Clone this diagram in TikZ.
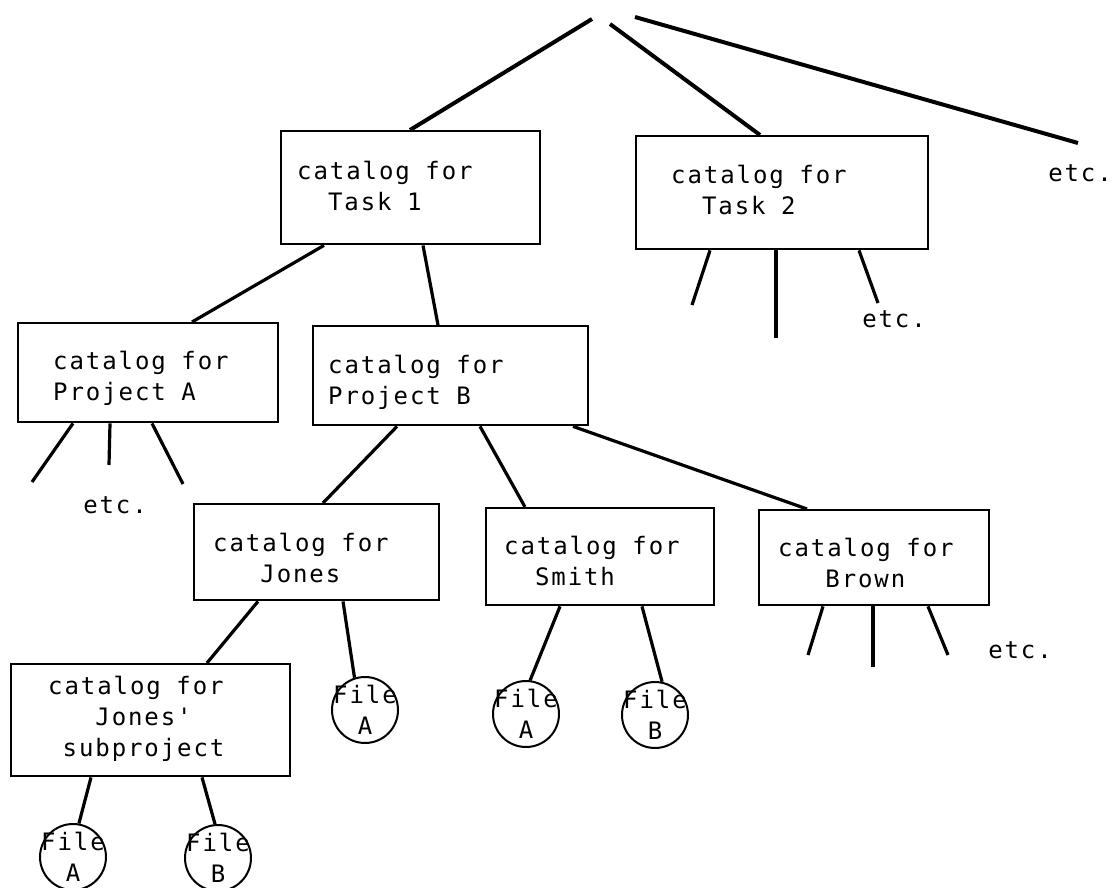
\documentclass[tikz,border=0pt]{standalone}
\usepackage{fontspec}
\usepackage{tikz}
\newfontfamily\typer[LetterSpace=8]{DejaVu Sans Mono}
\newcommand{\topstrut}[1]{\rule{0pt}{#1}}
\newcommand{\botstrut}[1]{\rule[-#1]{0pt}{#1}}
\newcommand{\gap}{\hspace{0.65em}}
\newcommand{\typefont}{\typer\fontsize{18pt}{23.25pt}\selectfont}
\tikzset{
  catbox/.style={draw, line width=1.8pt, anchor=north west, align=left, inner ysep=0pt, font=\typefont},
  filenode/.style={draw, circle, line width=1.5pt, minimum size=49.5pt, inner sep=0pt, align=center, font=\typefont},
  etcnote/.style={anchor=base west, inner sep=0pt, font=\typefont},
  branch/.style={line width=2.4pt},
  trunk/.style={line width=3pt}
}

\begin{document}
\begin{tikzpicture}[x=0.75pt, y=-0.75pt]
\useasboundingbox (0,0) rectangle (1118,888);

\coordinate (r1) at (592,19);
\coordinate (r2) at (610,24);
\coordinate (r3) at (635,17);
\coordinate (etcr) at (1078,143);

\node[catbox, inner xsep=12pt, text width=170.25pt] (task1) at (280,130) {\topstrut{36pt}catalog\gap for\\\phantom{xx}Task\gap 1\botstrut{25.5pt}};
\node[catbox, inner xsep=26.25pt, text width=166.5pt] (task2) at (635,135) {\topstrut{35.25pt}catalog\gap for\\\phantom{xx}Task\gap 2\botstrut{26.25pt}};
\node[catbox, inner xsep=26.25pt, text width=142.5pt] (proja) at (17,322) {\topstrut{34.5pt}catalog\gap for\\Project\gap A\botstrut{16.5pt}};
\node[catbox, inner xsep=11.25pt, text width=183.75pt] (projb) at (312,325) {\topstrut{35.25pt}catalog\gap for\\Project\gap B\botstrut{15.75pt}};
\node[catbox, inner xsep=14.25pt, text width=155.25pt] (jones) at (193,503) {\topstrut{35.25pt}catalog\gap for\\\phantom{xxx}Jones\botstrut{13.5pt}};
\node[catbox, inner xsep=13.5pt, text width=144pt] (smith) at (485,507) {\topstrut{34.5pt}catalog\gap for\\\phantom{xx}Smith\botstrut{15pt}};
\node[catbox, inner xsep=14.25pt, text width=144pt] (brown) at (758,509) {\topstrut{34.5pt}catalog\gap for\\\phantom{xxx}Brown\botstrut{13.5pt}};
\node[catbox, inner xsep=27.75pt, text width=153.75pt] (jsub) at (10,663) {\topstrut{22.5pt}catalog\gap for\\\phantom{xxx}Jones'\\\phantom{x}subproject\botstrut{15pt}};

\node[filenode] (jfa) at (365,710) {\makebox[0pt]{File}\\\makebox[0pt]{A}};
\node[filenode] (sfa) at (526,714) {\makebox[0pt]{File}\\\makebox[0pt]{A}};
\node[filenode] (sfb) at (655,715) {\makebox[0pt]{File}\\\makebox[0pt]{B}};
\node[filenode] (jsfa) at (73,857) {\makebox[0pt]{File}\\\makebox[0pt]{A}};
\node[filenode] (jsfb) at (218,858) {\makebox[0pt]{File}\\\makebox[0pt]{B}};

\node[etcnote] (etc1) at (1048,182) {etc.};
\node[etcnote] (etc2) at (862,327) {etc.};
\node[etcnote] (etc3) at (83,513) {etc.};
\node[etcnote] (etc4) at (988,658) {etc.};

\coordinate (t2a) at (692,305);
\coordinate (t2b) at (776,338);
\coordinate (t2c) at (878,303);
\coordinate (pa1) at (32,482);
\coordinate (pa2) at (109,465);
\coordinate (pa3) at (183,484);
\coordinate (br1) at (808,655);
\coordinate (br2) at (873,667);
\coordinate (br3) at (948,655);

\draw[trunk] (r1) to ([shift={(130,0)}]task1.north west);
\draw[trunk] (r2) to ([shift={(125,0)}]task2.north west);
\draw[trunk] (r3) to (etcr);

\draw[branch] ([shift={(44,0)}]task1.south west) to ([shift={(175,0)}]proja.north west);
\draw[branch] ([shift={(143,0)}]task1.south west) to ([shift={(126,0)}]projb.north west);
\draw[branch] ([shift={(75,0)}]task2.south west) to (t2a);
\draw[branch] ([shift={(141,0)}]task2.south west) to (t2b);
\draw[branch] ([shift={(224,0)}]task2.south west) to (t2c);

\draw[branch] ([shift={(56,0)}]proja.south west) to (pa1);
\draw[branch] ([shift={(93,0)}]proja.south west) to (pa2);
\draw[branch] ([shift={(135,0)}]proja.south west) to (pa3);

\draw[branch] ([shift={(85,0)}]projb.south west) to ([shift={(130,0)}]jones.north west);
\draw[branch] ([shift={(168,0)}]projb.south west) to ([shift={(40,0)}]smith.north west);
\draw[branch] ([shift={(261,0)}]projb.south west) to ([shift={(49,0)}]brown.north west);

\draw[branch] ([shift={(65,0)}]jones.south west) to ([shift={(197,0)}]jsub.north west);
\draw[branch] ([shift={(150,0)}]jones.south west) to (jfa.108);
\draw[branch] ([shift={(75,0)}]smith.south west) to (sfa.83);
\draw[branch] ([shift={(157,0)}]smith.south west) to (sfb.78);

\draw[branch] ([shift={(65,0)}]brown.south west) to (br1);
\draw[branch] ([shift={(115,0)}]brown.south west) to (br2);
\draw[branch] ([shift={(170,0)}]brown.south west) to (br3);

\draw[branch] ([shift={(81,0)}]jsub.south west) to (jsfa.80);
\draw[branch] ([shift={(192,0)}]jsub.south west) to (jsfb.95);

\end{tikzpicture}
\end{document}
